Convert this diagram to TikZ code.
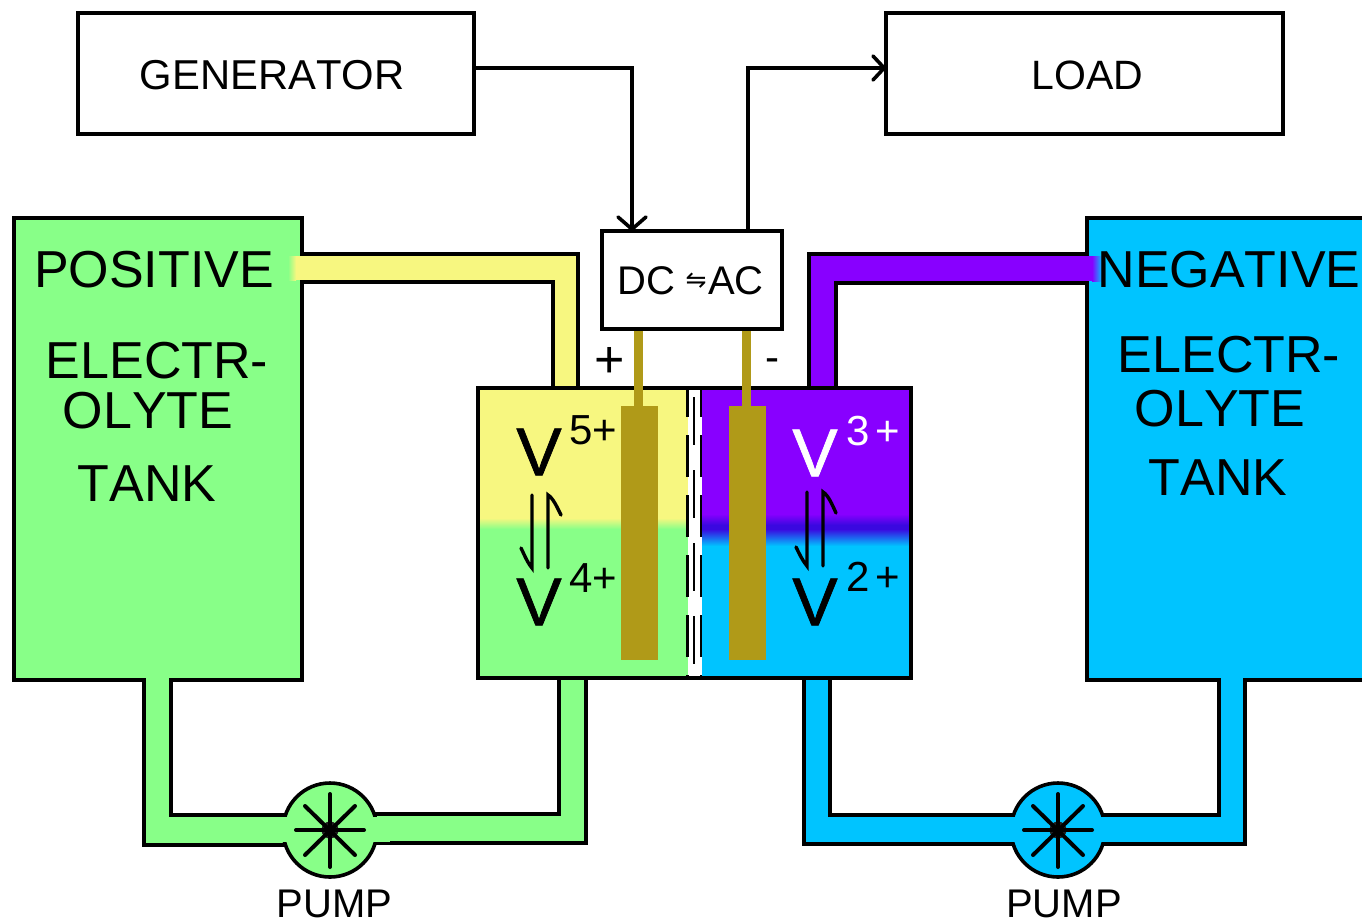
\documentclass[tikz,border=0pt]{standalone}
\usepackage{fontspec}
\setmainfont[Kerning=Off]{Liberation Sans}
\newfontfamily\dejavu{DejaVu Sans}
\newfontfamily\vfont[FakeBold=1.0]{Liberation Sans}
\usetikzlibrary{arrows.meta}
\definecolor{yel}{HTML}{F7F780}
\definecolor{grn}{HTML}{88FF88}
\definecolor{pur}{HTML}{8800FF}
\definecolor{blu}{HTML}{00C4FF}
\definecolor{dkb}{HTML}{3A08E0}
\definecolor{gld}{HTML}{B09A18}
\newcommand{\fs}[1]{\fontsize{#1}{#1}\selectfont}
\tikzset{
  ln/.style={line width=3.6pt,draw=black,line join=miter},
  boxn/.style={ln,fill=white,inner sep=0pt,font=\fs{42}},
  lbl/.style={inner sep=0pt,font=\fs{52},text=black},
  vee/.style={inner sep=0pt,font=\vfont\fs{68}},
  sup/.style={inner sep=0pt,font=\fs{42}},
  pumpt/.style={inner sep=0pt,font=\fs{40}},
  wire/.style={line width=3.6pt,draw=black},
  rot/.style={line width=4pt,draw=black,line cap=round},
  harp/.style={line width=3.4pt,draw=black,line cap=round},
}
\begin{document}
\begin{tikzpicture}[x=1pt,y=-1pt]
\useasboundingbox (0,0) rectangle (1362,922);
\clip (0,0) rectangle (1362,922);
\fill[white] (0,0) rectangle (1362,922);

% pipes (drawn below tanks and cell)
\draw[ln,fill=yel] (296,254) -- (578,254) -- (578,392) -- (553,392) -- (553,282) -- (296,282) -- cycle;
\draw[ln,fill=pur] (1100,254) -- (809,254) -- (809,392) -- (836,392) -- (836,283) -- (1100,283) -- cycle;
\draw[ln,fill=grn] (144,675) -- (144,845) -- (330,845) -- (330,843) -- (586,843) -- (586,672) -- (559,672) -- (559,814) -- (330,814) -- (330,815) -- (171,815) -- (171,675) -- cycle;
\draw[ln,fill=blu] (804,672) -- (804,844) -- (1245,844) -- (1245,675) -- (1219,675) -- (1219,815) -- (830,815) -- (830,672) -- cycle;

% tanks
\draw[ln,fill=grn] (14,218) rectangle (302,680);
\draw[ln,fill=blu] (1087,218) rectangle (1375,680);

% pipe mouths
\fill[yel] (288,256) rectangle (300,280);
\shade[left color=grn,right color=yel] (288,256) rectangle (296,280);
\fill[yel] (296,256) rectangle (304,280);
\fill[pur] (1080,256) rectangle (1092,281);
\shade[left color=pur,right color=blu] (1092,256) rectangle (1102,281);
\fill[grn] (146,676) rectangle (169,684);
\fill[blu] (1221,676) rectangle (1243,684);

% cell
\fill[yel] (478,388) rectangle (688,518);
\shade[top color=yel,bottom color=grn] (478,518) rectangle (688,529);
\fill[grn] (478,529) rectangle (688,678);
\fill[pur] (702,388) rectangle (911,514);
\shade[top color=pur,bottom color=dkb] (702,514) rectangle (911,525);
\fill[dkb] (702,525) rectangle (911,529);
\shade[top color=dkb,bottom color=blu] (702,529) rectangle (911,546);
\fill[blu] (702,546) rectangle (911,678);
\fill[white] (688,388) rectangle (702,678);
\draw[line width=2pt,dash pattern=on 48pt off 25pt] (694,397) -- (694,666);
\draw[line width=2.6pt,dash pattern=on 42pt off 18pt,dash phase=13pt] (687.5,388) -- (687.5,676);
\draw[line width=2.6pt,dash pattern=on 42pt off 18pt,dash phase=13pt] (701,388) -- (701,676);
\draw[ln] (478,388) rectangle (911,678);

% pumps
\draw[ln,fill=grn] (330,830) circle (47);
\draw[ln,fill=blu] (1058,830) circle (47);
\fill[grn] (270,817) rectangle (390,841.5);
\fill[blu] (998,817) rectangle (1118,842);
\foreach \cx in {330,1058}{
  \fill[black!88] (\cx,830) circle (8.5);
  \draw[rot] (\cx-34,830) -- (\cx+34,830);
  \draw[rot] (\cx,794) -- (\cx,867);
  \draw[rot] (\cx-25,806) -- (\cx+25,855);
  \draw[rot] (\cx-25,855) -- (\cx+25,806);
}

% electrodes
\fill[gld] (634,325) rectangle (643,410);
\fill[gld] (742,325) rectangle (751,410);
\fill[gld] (621,406) rectangle (658,660);
\fill[gld] (729,406) rectangle (766,660);

% boxes
\node[boxn,minimum width=396pt,minimum height=121pt] (gen) at (276,73.5) {};
\node[inner sep=0pt,font=\fs{41.8}] (gent) at (272,75) {GENERATOR};
\node[boxn,minimum width=397pt,minimum height=121pt] (load) at (1084.5,73.5) {};
\node[inner sep=0pt,font=\fs{41}] (loadt) at (1087.5,75) {LOAD};
\node[boxn,minimum width=180pt,minimum height=98pt] (dc) at (692,280) {};
\node[inner sep=0pt,font=\fs{40}] (dct) at (646,281) {DC};
\node[inner sep=0pt,font=\fs{40}] (act) at (736,281) {AC};
\node[inner sep=0pt,font=\dejavu\fs{25}] (eq) at (696,281) {⇋};

% connectors
\draw[wire] ([yshift=5.5pt]gen.east) -| ([xshift=-60pt]dc.north);
\draw[wire] ([xshift=56pt]dc.north) |- ([yshift=5.5pt]load.west);
\draw[wire,line cap=round] (618,217) -- ([xshift=-60pt]dc.north) -- (646,217);
\draw[wire,line cap=round] (873,56) -- ([yshift=5.5pt]load.west) -- (873,80);

% tank texts
\node[lbl] (p1) at (154,270) {POSITIVE};
\node[lbl] (p2) at (157,361) {ELECTR-};
\node[lbl] (p3) at (148,411) {OLYTE};
\node[lbl] (p4) at (147,484) {TANK};
\node[lbl] (n1) at (1229,270) {NEGATIVE};
\node[lbl] (n2) at (1229,355) {ELECTR-};
\node[lbl] (n3) at (1220,409) {OLYTE};
\node[lbl] (n4) at (1218,478) {TANK};

% ions
\node[vee] (v5) at (539,452) {V};
\node[sup] (s5) at (593.5,430) {5+};
\node[vee] (v4) at (539,602) {V};
\node[sup] (s4) at (593.5,578) {4+};
\node[vee,text=white] (v3) at (815,453) {V};
\node[sup,text=white] (s3) at (873.5,431) {3\kern6pt+};
\node[vee] (v2) at (815,602) {V};
\node[sup] (s2) at (873.5,577) {2\kern6pt+};

% equilibrium arrows
\draw[harp] (532,495) -- (532,568) .. controls (527,562) and (524,554) .. (521,548);
\draw[harp] (548,568) -- (548,495) .. controls (553,498) and (557,507) .. (561,515);
\draw[harp] (807,492) -- (807,566) .. controls (802,560) and (799,553) .. (796,547);
\draw[harp] (823,566) -- (823,492) .. controls (828,495) and (832,504) .. (836,513);

% polarity
\node[inner sep=0pt,font=\fs{52}] (plus) at (610,362) {+};
\node[inner sep=0pt,font=\fs{42}] (minus) at (772,365) {-};

% pump labels
\node[pumpt] (pl) at (334.5,904) {PUMP};
\node[pumpt] (pr) at (1064,904) {PUMP};
\end{tikzpicture}
\end{document}
